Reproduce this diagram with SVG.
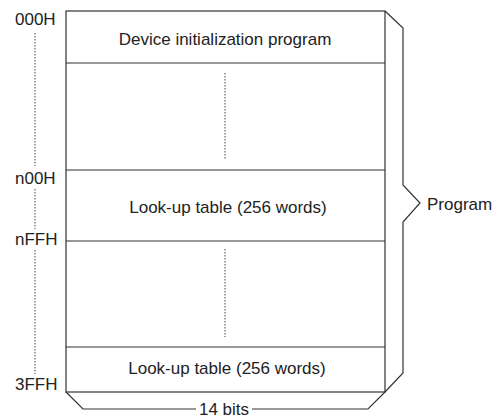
<svg xmlns="http://www.w3.org/2000/svg" width="497" height="420" viewBox="0 0 497 420">
<style>
.ln{fill:none;stroke:#333;stroke-width:1.2}
.dot{fill:none;stroke:#444;stroke-width:1;stroke-dasharray:1.5 1.5}
text{font-family:"Liberation Sans",Arial,sans-serif;font-size:17px;fill:#222}
.m{text-anchor:middle}
</style>
<rect width="497" height="420" fill="#fff"/>
<g id="memory">
<rect class="ln" x="66" y="11" width="319" height="381"/>
<line class="ln" x1="66" y1="63" x2="385" y2="63"/>
<line class="ln" x1="66" y1="170" x2="385" y2="170"/>
<line class="ln" x1="66" y1="241" x2="385" y2="241"/>
<line class="ln" x1="66" y1="347" x2="385" y2="347"/>
<line class="dot" x1="225" y1="73" x2="225" y2="159"/>
<line class="dot" x1="225" y1="249" x2="225" y2="337"/>
</g>
<g id="device-init"><text class="m" x="225" y="45">Device initialization program</text></g>
<g id="lut1"><text class="m" x="228" y="213">Look-up table (256 words)</text></g>
<g id="lut2"><text class="m" x="227" y="374">Look-up table (256 words)</text></g>
<g id="addresses">
<text x="15" y="25">000H</text>
<text x="15" y="184">n00H</text>
<text x="15" y="245">nFFH</text>
<text x="15" y="390">3FFH</text>
<line class="dot" x1="35" y1="33" x2="35" y2="166"/>
<line class="dot" x1="35" y1="189" x2="35" y2="229"/>
<line class="dot" x1="35" y1="250" x2="35" y2="374"/>
</g>
<g id="connectors">
<polyline class="ln" points="385,11 403,28 403,185 420,203 403,222 403,373 385,392"/>
<polyline class="ln" points="196,409 83,409 66,392"/>
<polyline class="ln" points="252,409 368,409 385,392"/>
</g>
<g id="program-label"><text x="427" y="210">Program</text></g>
<g id="bits-label"><text class="m" x="224" y="415">14 bits</text></g>
</svg>
